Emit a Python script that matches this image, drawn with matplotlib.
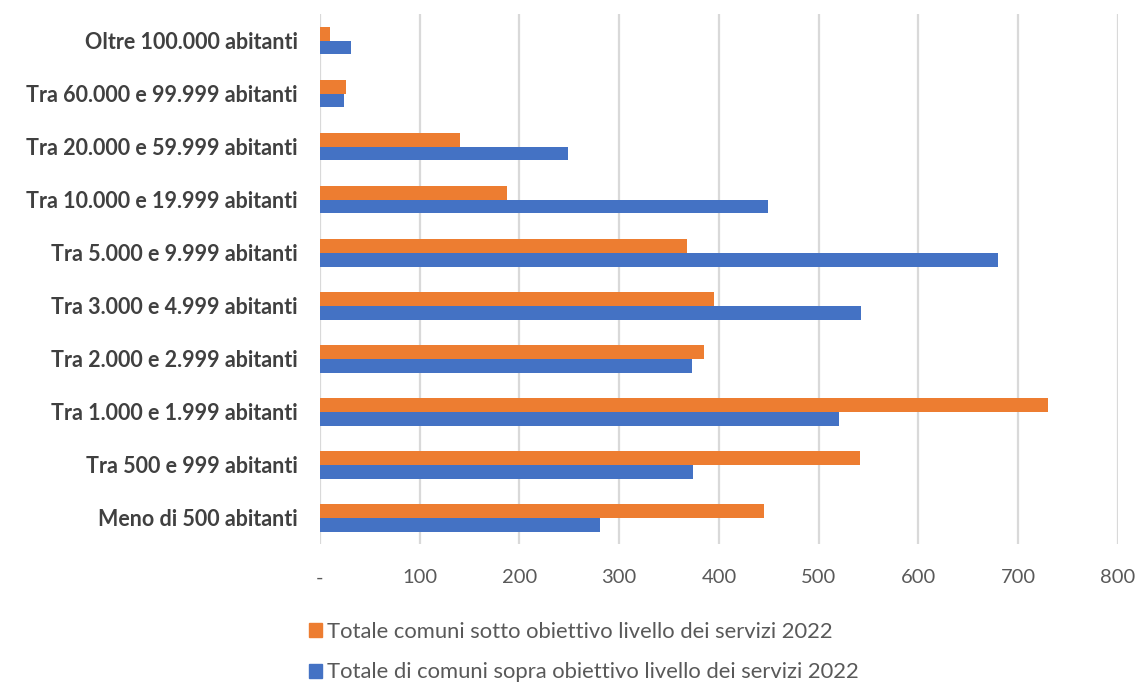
import numpy as np
import matplotlib
matplotlib.use('Agg')
import matplotlib.pyplot as plt
from matplotlib.patches import Patch

plt.rcParams['font.family'] = ['Lato', 'DejaVu Sans']

categorie = [
    'Meno di 500 abitanti',
    'Tra 500 e 999 abitanti',
    'Tra 1.000 e 1.999 abitanti',
    'Tra 2.000 e 2.999 abitanti',
    'Tra 3.000 e 4.999 abitanti',
    'Tra 5.000 e 9.999 abitanti',
    'Tra 10.000 e 19.999 abitanti',
    'Tra 20.000 e 59.999 abitanti',
    'Tra 60.000 e 99.999 abitanti',
    'Oltre 100.000 abitanti',
]
sotto = [445, 541, 730, 385, 395, 368, 188, 140, 26, 10]
sopra = [281, 374, 520, 373, 542, 680, 449, 249, 24, 31]
nome_sotto = 'Totale comuni sotto obiettivo livello dei servizi 2022'
nome_sopra = 'Totale di comuni sopra obiettivo livello dei servizi 2022'
tick_vals = [0, 100, 200, 300, 400, 500, 600, 700, 800]
tick_labels = ['-', '100', '200', '300', '400', '500', '600', '700', '800']

arancio = '#ED7D31'
blu = '#4472C4'

fig = plt.figure(figsize=(11.37, 6.83), dpi=100)
ax = fig.add_axes([0.2814, 0.2028, 0.7019, 0.7767])

y = np.arange(len(categorie))
h = 0.26
ax.barh(y + h / 2, sotto, height=h, color=arancio, label=nome_sotto)
ax.barh(y - h / 2, sopra, height=h, color=blu, label=nome_sopra)

ax.set_xlim(0, 800)
ax.set_ylim(-0.5, len(categorie) - 0.5)
ax.set_xticks(tick_vals)
ax.set_xticklabels(tick_labels, fontsize=14.5, color='#595959')
ax.set_yticks(y)
ax.set_yticklabels(categorie, fontsize=15.5, fontweight='bold', color='#404040')
ax.tick_params(axis='both', length=0)
ax.tick_params(axis='x', pad=18)
ax.tick_params(axis='y', pad=16)
ax.grid(axis='x', color='#D9D9D9', linewidth=1.6)
ax.set_axisbelow(True)
for s in ax.spines.values():
    s.set_visible(False)

handles = [Patch(color=arancio), Patch(color=blu)]
fig.legend(handles, [nome_sotto, nome_sopra], loc='upper left',
           bbox_to_anchor=(0.272, 0.090), frameon=False, ncol=1,
           fontsize=15.8, labelcolor='#595959', handlelength=0.6,
           handleheight=0.6, handletextpad=0.2, labelspacing=0.95,
           borderaxespad=0, borderpad=0)

fig.savefig('out.png', dpi=100)
